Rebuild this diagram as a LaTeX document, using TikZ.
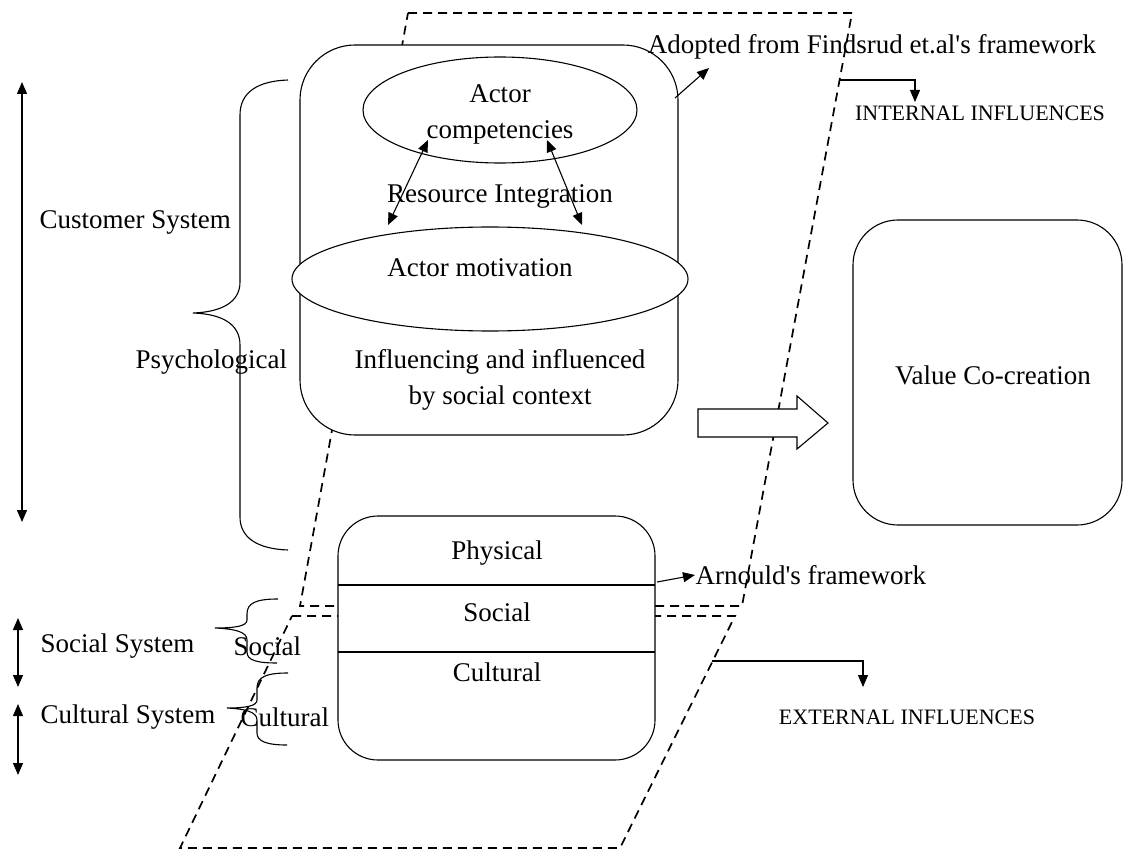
\documentclass[tikz,border=0pt]{standalone}
\usepackage{fontspec}
\setmainfont{Liberation Serif}
\usetikzlibrary{arrows.meta,shapes.geometric}
\begin{document}
\begin{tikzpicture}[x=1pt,y=-1pt, line width=1.1pt,
  dashedline/.style={dash pattern=on 9pt off 6pt, line width=1.7pt},
  tipar/.style={-{Triangle[length=12pt,width=10pt]}},
  dtipar/.style={{Triangle[length=12pt,width=10pt]}-{Triangle[length=12pt,width=10pt]}},
  lbl/.style={font=\fontsize{27}{36}\selectfont, inner sep=0pt},
  caps/.style={font=\fontsize{22}{26}\selectfont, inner sep=0pt},
  rbox/.style={draw, fill=white, inner sep=0pt},
]
\useasboundingbox (0,0) rectangle (1124,850);

% dashed parallelograms
\draw[dashedline] (408,13) -- (852,13) -- (742,606) -- (300,606) -- cycle;
\draw[dashedline] (292,616) -- (735,616) -- (620,848) -- (180,848) -- cycle;

% customer system box
\node[rbox, rounded corners=55pt, minimum width=378pt, minimum height=390pt] (cust) at (489,240) {};
\node[rbox, ellipse, minimum width=274pt, minimum height=106pt] (comp) at (500,110) {};
\node[lbl, align=center] (compt) at (500,114) {Actor\\competencies};
\node[rbox, ellipse, minimum width=396pt, minimum height=104pt] (motiv) at (490,279) {};
\node[lbl] (motivt) at (480,268) {Actor motivation};
\node[lbl] (resint) at (500,196) {Resource Integration};
\node[lbl, align=center] (infl) at (500,380) {Influencing and influenced\\by social context};

\coordinate (c1) at (428,140);
\coordinate (m1) at (388,225);
\coordinate (c2) at (547,140);
\coordinate (m2) at (582,225);
\draw[dtipar] (c1) -- (m1);
\draw[dtipar] (c2) -- (m2);

% adopted label
\coordinate (custcorner) at (675,98);
\node[lbl] (adopt) at (872,47) {Adopted from Findsrud et.al\textquotesingle s framework};
\draw[tipar] (custcorner) -- (709,68);

% internal influences
\coordinate (intstart) at (840,80);
\coordinate (intend) at (915,102);
\node[caps] (intl) at (980,113) {INTERNAL INFLUENCES};
\draw[tipar] (intstart) -| (intend);

% block arrow
\draw[fill=white] (698,409) -- (797,409) -- (797,396) -- (828,423) -- (797,449) -- (797,437) -- (698,437) -- cycle;

% value co-creation
\node[rbox, rounded corners=45pt, minimum width=269pt, minimum height=305pt] (value) at (987.5,372.5) {};
\node[lbl] (valuet) at (993,375) {Value Co-creation};

% left customer arrow and brace
\coordinate (ctop) at (22,82);
\coordinate (cbot) at (22,522);
\draw[dtipar] (ctop) -- (cbot);
\node[lbl, anchor=west] (custsys) at (39,222) {Customer System};
\node[lbl, anchor=west] (psych) at (135,362) {Psychological};
\draw (288,80) .. controls (258,81) and (240,92) .. (240,115) -- (240,282)
  .. controls (240,302) and (222,312) .. (193,313)
  .. controls (222,314) and (240,324) .. (240,345) -- (240,517)
  .. controls (240,538) and (258,549) .. (288,550);

% bottom box
\node[rbox, rounded corners=40pt, minimum width=317pt, minimum height=244pt] (bot) at (496.5,638) {};
\coordinate (l1w) at (338,585);
\coordinate (l1e) at (655,585);
\coordinate (l2w) at (338,652);
\coordinate (l2e) at (655,652);
\draw (l1w) -- (l1e);
\draw (l2w) -- (l2e);
\node[lbl] (phys) at (497,553) {Physical};
\node[lbl] (soc) at (497,612) {Social};
\node[lbl] (cult) at (497,672) {Cultural};

% arnould
\coordinate (botcorner) at (657,582);
\node[lbl, anchor=west] (arn) at (695,575) {Arnould\textquotesingle s framework};
\draw[tipar] (botcorner) -- (arn.west);

% external influences
\coordinate (extstart) at (712,661);
\coordinate (extend) at (863,687);
\node[caps] (extl) at (907,717) {EXTERNAL INFLUENCES};
\draw[tipar] (extstart) -| (extend);

% social / cultural systems
\draw[dtipar] (18,618) coordinate (stop) -- (18,687) coordinate (sbot);
\draw[dtipar] (18,704) coordinate (cutop) -- (18,775) coordinate (cubot);
\node[lbl, anchor=west] (socsys) at (40,646) {Social System};
\node[lbl, anchor=west] (cultsys) at (40,717) {Cultural System};
\node[lbl, anchor=west] (socl) at (233,646) {Social};
\node[lbl, anchor=west] (cultl) at (240,717) {Cultural};
\draw (278,599) .. controls (256,599) and (247,603) .. (247,614) -- (247,620)
  .. controls (247,626) and (236,628) .. (215,628)
  .. controls (236,629) and (247,632) .. (247,640) -- (247,652)
  .. controls (247,660) and (256,663) .. (277,663);
\draw (288,673) .. controls (266,673) and (257,677) .. (257,688) -- (257,700)
  .. controls (257,706) and (246,708) .. (227,708)
  .. controls (246,709) and (257,712) .. (257,720) -- (257,733)
  .. controls (257,741) and (266,745) .. (287,745);
\end{tikzpicture}
\end{document}
